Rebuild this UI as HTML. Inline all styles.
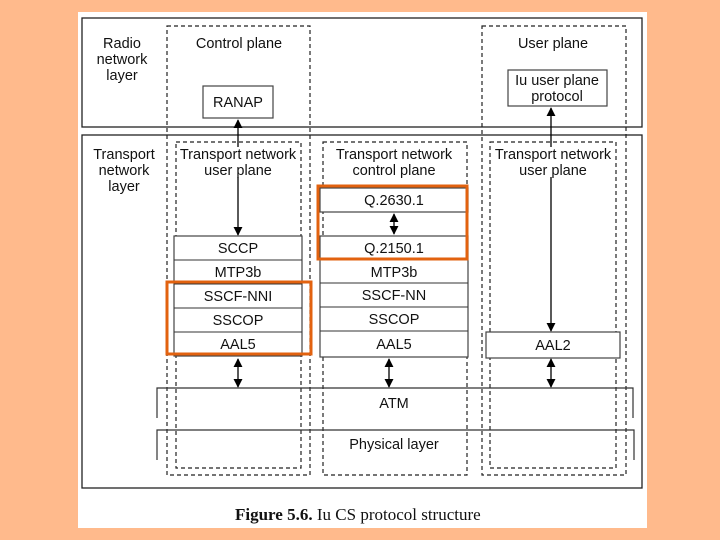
<!DOCTYPE html>
<html><head><style>
body{margin:0;background:#FFBA8C;width:720px;height:540px;overflow:hidden}
svg{display:block}
text{font-family:"Liberation Sans",sans-serif;font-size:14.5px;fill:#111}
.s{font-family:"Liberation Serif",serif;font-size:17px}
</style></head><body>
<svg width="720" height="540" viewBox="0 0 720 540">
<defs>
<marker id="a" viewBox="0 0 10 10" refX="9" refY="5" markerWidth="7" markerHeight="7" orient="auto-start-reverse"><path d="M0,0L10,5L0,10z" fill="#000"/></marker>
</defs>
<rect x="78" y="12" width="569" height="516" fill="#fff"/>
<g fill="none" stroke="#222" stroke-width="1.3">
<rect x="82" y="18" width="560" height="109"/>
<rect x="82" y="135" width="560" height="353"/>
</g>
<g fill="none" stroke="#222" stroke-width="1.2" stroke-dasharray="4,3">
<rect x="167" y="26" width="143" height="449"/>
<rect x="176" y="142" width="125" height="326"/>
<rect x="323" y="142" width="144" height="333"/>
<rect x="482" y="26" width="144" height="449"/>
<rect x="490" y="142" width="126" height="326"/>
</g>
<g fill="#fff" stroke="#444" stroke-width="1.2">
<rect x="203" y="86" width="70" height="32"/>
<rect x="508" y="70" width="99" height="36"/>
<rect x="174" y="236" width="128" height="120"/>
<rect x="320" y="188" width="148" height="24"/>
<rect x="320" y="236" width="148" height="121"/>
<rect x="486" y="332" width="134" height="26"/>
</g>
<g stroke="#333" stroke-width="1">
<line x1="174" y1="260" x2="302" y2="260"/><line x1="174" y1="284" x2="302" y2="284"/><line x1="174" y1="308" x2="302" y2="308"/><line x1="174" y1="332" x2="302" y2="332"/>
<line x1="320" y1="260" x2="468" y2="260"/><line x1="320" y1="283" x2="468" y2="283"/><line x1="320" y1="307" x2="468" y2="307"/><line x1="320" y1="331" x2="468" y2="331"/>
</g>
<g fill="none" stroke="#333" stroke-width="1.2">
<path d="M157,418V388H633V418"/>
<path d="M157,460V430H634V460"/>
</g>
<g stroke="#000" stroke-width="1.3">
<line x1="238" y1="120" x2="238" y2="235" marker-start="url(#a)" marker-end="url(#a)"/>
<line x1="551" y1="108" x2="551" y2="331" marker-start="url(#a)" marker-end="url(#a)"/>
<line x1="394" y1="214" x2="394" y2="234" marker-start="url(#a)" marker-end="url(#a)"/>
<line x1="238" y1="359" x2="238" y2="387" marker-start="url(#a)" marker-end="url(#a)"/>
<line x1="389" y1="359" x2="389" y2="387" marker-start="url(#a)" marker-end="url(#a)"/>
<line x1="551" y1="359" x2="551" y2="387" marker-start="url(#a)" marker-end="url(#a)"/>
</g>
<g fill="#fff">
<rect x="182" y="147" width="112" height="30"/>
<rect x="497" y="147" width="112" height="30"/>
</g>
<g fill="none" stroke="#E2620F" stroke-width="3">
<rect x="318" y="186" width="149" height="73"/>
<rect x="167" y="282" width="144" height="72"/>
</g>
<g text-anchor="middle">
<text x="122" y="48">Radio</text><text x="122" y="64">network</text><text x="122" y="80">layer</text>
<text x="239" y="48">Control plane</text>
<text x="238" y="107">RANAP</text>
<text x="553" y="48">User plane</text>
<text x="557" y="85">Iu user plane</text><text x="557" y="101">protocol</text>
<text x="124" y="159">Transport</text><text x="124" y="175">network</text><text x="124" y="191">layer</text>
<text x="238" y="159">Transport network</text><text x="238" y="175">user plane</text>
<text x="394" y="159">Transport network</text><text x="394" y="175">control plane</text>
<text x="553" y="159">Transport  network</text><text x="553" y="175">user plane</text>
<text x="394" y="205">Q.2630.1</text>
<text x="394" y="253">Q.2150.1</text><text x="394" y="277">MTP3b</text><text x="394" y="300">SSCF-NN</text><text x="394" y="324">SSCOP</text><text x="394" y="349">AAL5</text>
<text x="238" y="253">SCCP</text><text x="238" y="277">MTP3b</text><text x="238" y="301">SSCF-NNI</text><text x="238" y="325">SSCOP</text><text x="238" y="349">AAL5</text>
<text x="553" y="350">AAL2</text>
<text x="394" y="408">ATM</text>
<text x="394" y="449">Physical layer</text>
</g>
<text class="s" x="235" y="520"><tspan font-weight="bold">Figure 5.6.</tspan>  Iu CS protocol structure</text>
</svg>
</body></html>
